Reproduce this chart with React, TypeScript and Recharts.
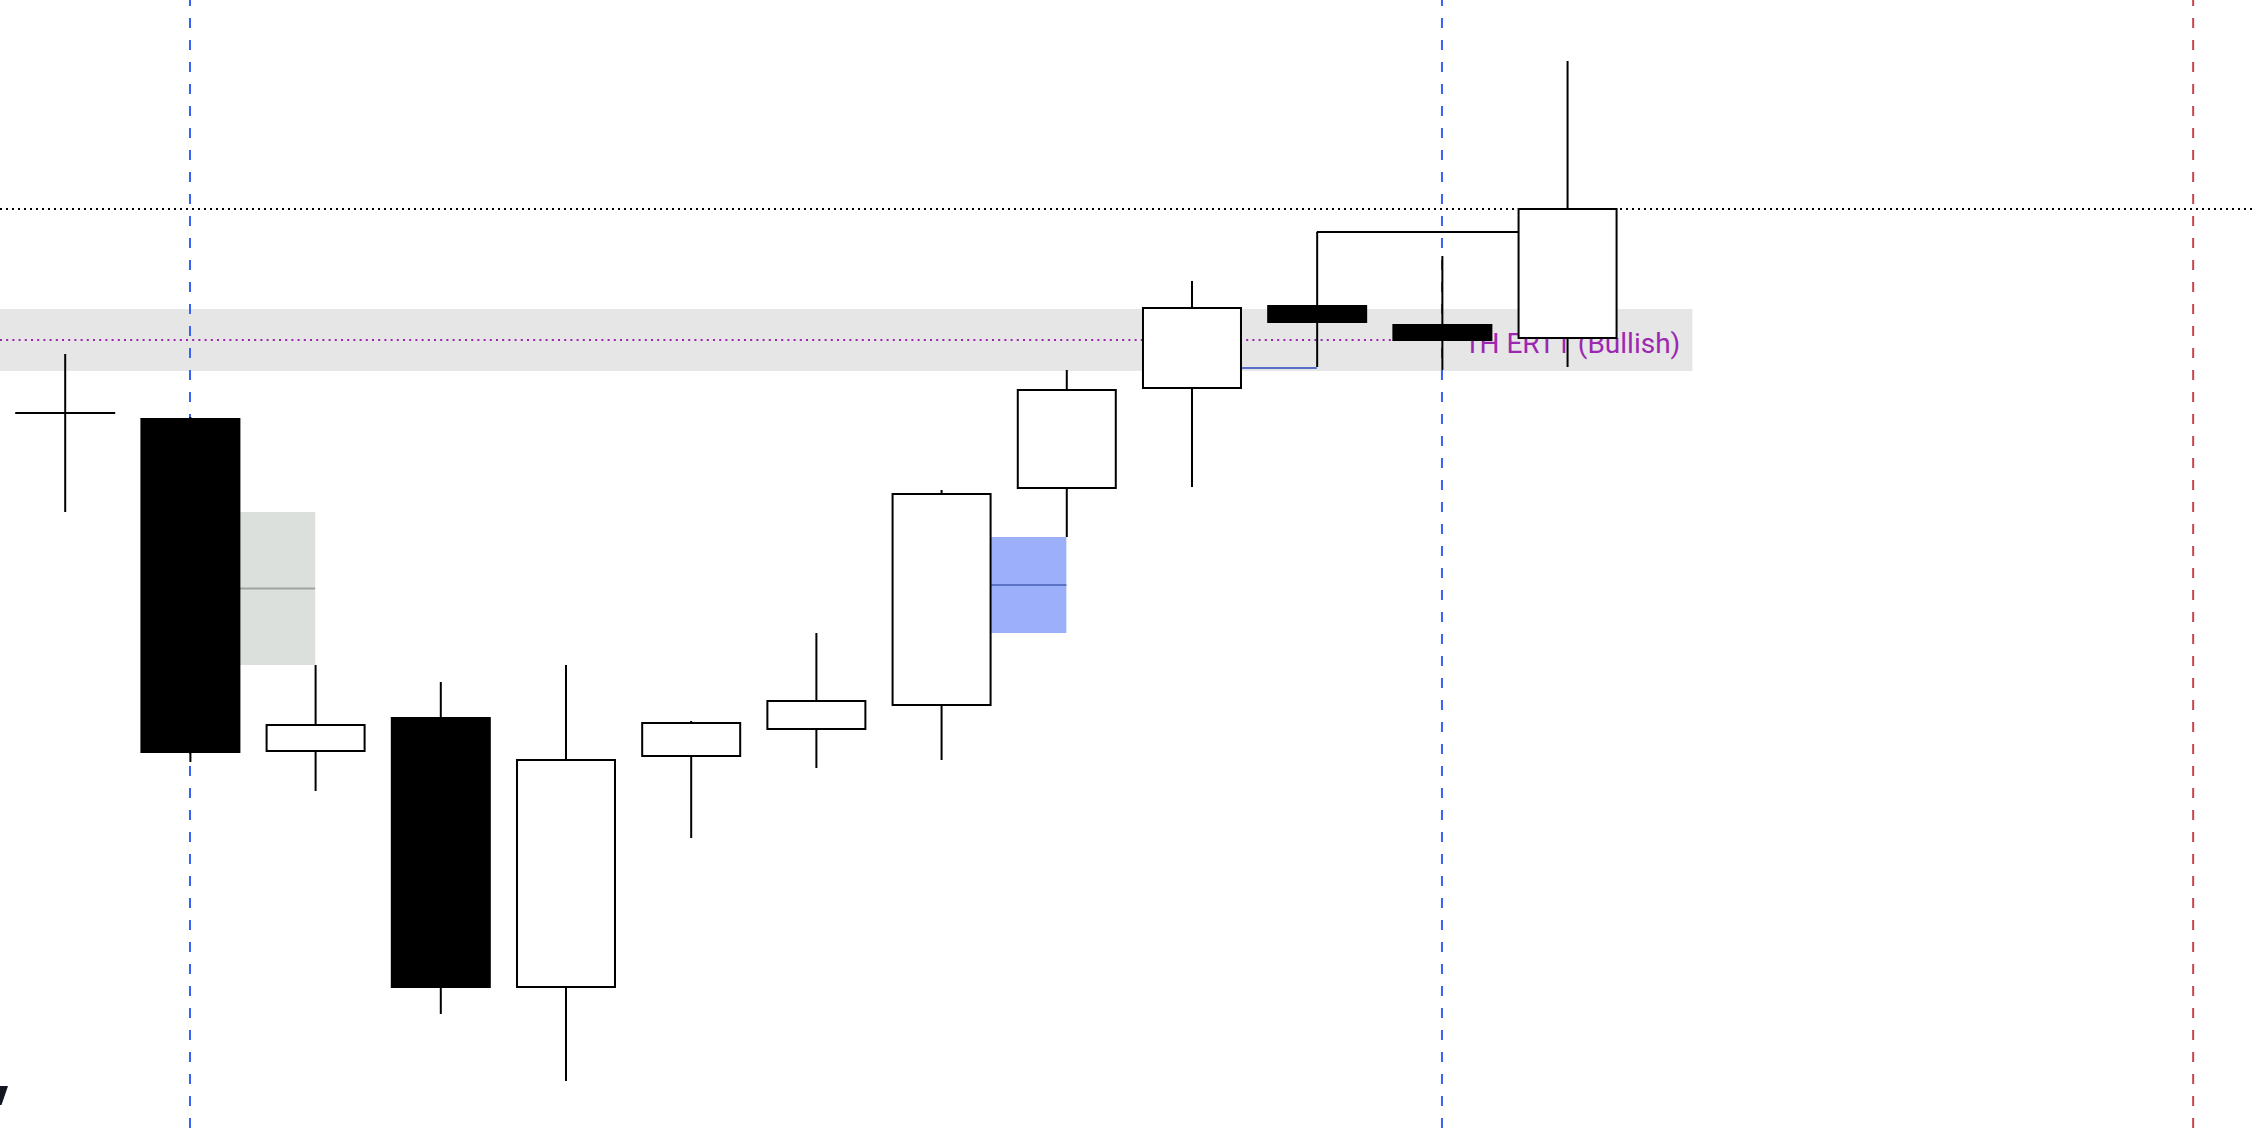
import React from 'react';
import { ComposedChart, Bar, XAxis, YAxis, ReferenceArea, ReferenceLine } from 'recharts';

// bar index, OHLC
const barIndex = [0, 1, 2, 3, 4, 5, 6, 7, 8, 9, 10, 11, 12];
const opens = [4571.5, 4571.0, 4537.7, 4541.1, 4514.1, 4537.2, 4539.9, 4542.3, 4564.0, 4574.0, 4582.3, 4580.4, 4579.0];
const highs = [4577.4, 4571.1, 4546.3, 4544.6, 4546.3, 4540.7, 4549.5, 4563.8, 4575.8, 4584.7, 4589.6, 4587.2, 4606.7];
const lows = [4561.6, 4536.6, 4533.7, 4511.4, 4504.7, 4529.0, 4536.0, 4536.8, 4559.1, 4564.1, 4576.1, 4575.8, 4576.1];
const closes = [4571.5, 4537.5, 4540.3, 4514.0, 4536.8, 4540.5, 4542.7, 4563.4, 4573.8, 4582.0, 4580.5, 4578.7, 4591.9];

// levels / zones
const zoneLabel = '1H ERT1 (Bullish)';
const zoneTop = 4581.9;
const zoneBottom = 4575.7;
const zoneMid = 4578.8;
const lastPrice = 4591.9;
const bearGap = [4546.3, 4561.6, 4553.95];
const bearGapX = [1.4, 2];
const bullGap = [4549.5, 4559.1, 4554.3];
const bullGapX = [7.4, 8];
const sweepLow = 4576.0;
const sweepLowX = [9.39, 10];
const sweepHigh = 4589.6;
const sweepHighX = [10, 12];
const sessionBlue = [1, 11];
const sessionRed = [17];

const data = barIndex.map((i, k) => ({
  i,
  open: opens[k],
  high: highs[k],
  low: lows[k],
  close: closes[k],
}));

const Candle = (props: any) => {
  const { x, y, width, height, payload } = props;
  if (!payload) return null;
  const { open, close, high, low } = payload;
  const top0 = height >= 0 ? y : y + height;
  const h = Math.abs(height);
  const ratio = h / (high - low);
  const yOf = (v: number) => top0 + (high - v) * ratio;
  const cx = x + width / 2;
  const top = yOf(Math.max(open, close));
  const bot = yOf(Math.min(open, close));
  const up = close >= open;
  let body;
  if (bot - top < 1) {
    body = <line x1={x} x2={x + width} y1={top} y2={top} stroke="#000" strokeWidth={2} />;
  } else if (up) {
    body = <rect x={x + 1} y={top} width={width - 2} height={bot - top} fill="#fff" stroke="#000" strokeWidth={2} />;
  } else {
    body = <rect x={x} y={top} width={width} height={bot - top} fill="#000" />;
  }
  return (
    <g>
      <line x1={cx} x2={cx} y1={top0} y2={top0 + h} stroke="#000" strokeWidth={2} />
      {body}
    </g>
  );
};

const ZoneShape = (props: any) => {
  const { x, y, width, height } = props;
  return (
    <g>
      <rect x={x} y={y} width={width} height={height} fill="#e6e6e6" />
      <text
        x={x + width - 12}
        y={y + height - 18}
        textAnchor="end"
        fill="#9c27b0"
        fontSize={28}
        fontFamily="Roboto"
      >
        {zoneLabel}
      </text>
    </g>
  );
};

export default function App() {
  return (
    <div style={{ position: 'fixed', left: 0, top: 0, width: 2256, height: 1128, background: '#fff' }}>
      <ComposedChart width={2256} height={1128} data={data} margin={{ top: 0, right: 0, bottom: 0, left: 0 }}>
        <XAxis type="number" dataKey="i" domain={[-0.5176, 17.502]} hide allowDataOverflow />
        <YAxis type="number" domain={[4500, 4612.8]} hide allowDataOverflow />

        <ReferenceArea x2={13} y1={zoneBottom} y2={zoneTop} shape={<ZoneShape />} zIndex={50} />
        <ReferenceArea x1={bearGapX[0]} x2={bearGapX[1]} y1={bearGap[0]} y2={bearGap[1]} fill="#dce0dd" fillOpacity={1} zIndex={60} />
        <ReferenceArea x1={bullGapX[0]} x2={bullGapX[1]} y1={bullGap[0]} y2={bullGap[1]} fill="#9bb0f8" fillOpacity={1} zIndex={60} />

        <ReferenceLine
          segment={[{ x: -0.5176, y: zoneMid }, { x: 11, y: zoneMid }]}
          stroke="#9c27b0"
          strokeWidth={2}
          strokeDasharray="2 4.2"
          zIndex={70}
        />
        <ReferenceLine segment={[{ x: bearGapX[0], y: bearGap[2] }, { x: bearGapX[1], y: bearGap[2] }]} stroke="#9ea39f" strokeWidth={2} zIndex={70} />
        <ReferenceLine segment={[{ x: bullGapX[0], y: bullGap[2] }, { x: bullGapX[1], y: bullGap[2] }]} stroke="#5a72c4" strokeWidth={2} zIndex={70} />
        <ReferenceLine segment={[{ x: sweepLowX[0], y: sweepLow }, { x: sweepLowX[1], y: sweepLow }]} stroke="#5470c8" strokeWidth={2} zIndex={70} />
        <ReferenceLine segment={[{ x: sweepHighX[0], y: sweepHigh }, { x: sweepHighX[1], y: sweepHigh }]} stroke="#000" strokeWidth={2} zIndex={70} />
        <ReferenceLine y={lastPrice} stroke="#000" strokeWidth={2} strokeDasharray="2 4" zIndex={70} />
        {sessionBlue.map((v) => (
          <ReferenceLine key={`sb-${v}`} x={v} stroke="#3a62f2" strokeWidth={2} strokeDasharray="10 12" zIndex={70} />
        ))}
        {sessionRed.map((v) => (
          <ReferenceLine key={`sr-${v}`} x={v} stroke="#c8454f" strokeWidth={2} strokeDasharray="10 12" zIndex={70} />
        ))}

        <Bar
          dataKey={(d: any) => [d.low, d.high]}
          barSize={100}
          shape={<Candle />}
          isAnimationActive={false}
          zIndex={1500}
        />
      </ComposedChart>
      <svg style={{ position: 'absolute', left: 0, top: 1086 }} width={10} height={20}>
        <polygon points="0,0 8,0 1.5,19 0,19" fill="#131722" />
      </svg>
    </div>
  );
}
